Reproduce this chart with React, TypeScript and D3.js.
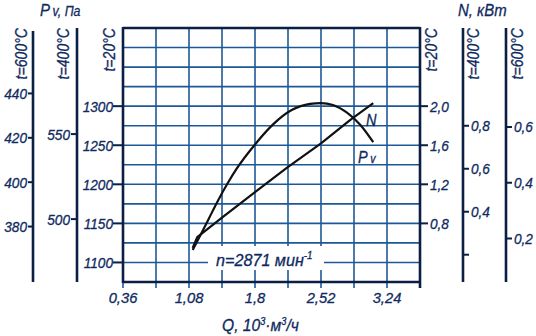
import React from "react";
import * as d3 from "d3";

// flow, 10^3 m3/h
const qTicks = [0.36, 1.08, 1.8, 2.52, 3.24];
const qGrid = [0.36, 0.72, 1.08, 1.44, 1.8, 2.16, 2.52, 2.88, 3.24, 3.6];
const pGrid = [1075, 1100, 1125, 1150, 1175, 1200, 1225, 1250, 1275, 1300, 1325, 1350, 1375, 1400];

// pressure ticks for each temperature
const pv20Ticks = [1100, 1150, 1200, 1250, 1300];
const pv400Ticks = [500, 550];
const pv600Ticks = [380, 400, 420, 440];

// power ticks
const n20Ticks = [0.8, 1.2, 1.6, 2.0];
const n400Ticks = [0.2, 0.4, 0.6, 0.8];
const n400Labeled = [0.4, 0.6, 0.8];
const n600Ticks = [0.2, 0.4, 0.6];

// curves (t=20°C scales)
const pvQ = [1.12, 1.2, 1.3, 1.4, 1.5, 1.6, 1.8, 2.0, 2.2, 2.4, 2.52, 2.65, 2.8, 2.95, 3.09];
const pvVal = [1116, 1134, 1157, 1180, 1201, 1220, 1251, 1277, 1295, 1303, 1304, 1301.5, 1292, 1276, 1254];
const nQ = [1.12, 1.17, 1.44, 1.8, 2.15, 2.52, 2.84, 3.09];
const nVal = [0.55, 0.66, 0.86, 1.12, 1.37, 1.62, 1.86, 2.03];

const W = 536;
const H = 336;
const L = 123, R = 420, T = 28, B = 282;

const TXT = "#0f2a5e";
const GRID = "#1d5896";
const FRAME = "#0b1f45";
const FONT = "'Liberation Sans', Arial, sans-serif";

const fmt = (v: number, d = 1) => v.toFixed(d).replace(".", ",");

// condensed italic label, drawn around (x, y)
function Lbl({ x, y, children, size = 15.5, anchor = "start", rot = 0, sx = 0.88 }: any) {
  return (
    <g transform={`translate(${x},${y}) rotate(${rot}) scale(${sx},1)`}>
      <text x={0} y={0} fontSize={size} fontStyle="italic" fontFamily={FONT} fill={TXT}
        stroke={TXT} strokeWidth={0.3} textAnchor={anchor}>
        {children}
      </text>
    </g>
  );
}

export default function App() {
  const x = d3.scaleLinear().domain([0.36, 3.6]).range([L, R]);
  const yP = d3.scaleLinear().domain([1075, 1400]).range([B, T]);
  const yN = d3.scaleLinear().domain([0.2, 2.8]).range([B, T]);
  const yP400 = d3.scaleLinear().domain([463, 612.4]).range([B, T]);
  const yP600 = d3.scaleLinear().domain([355, 469.5]).range([B, T]);
  const yN400 = d3.scaleLinear().domain([0.073, 1.255]).range([B, T]);
  const yN600 = d3.scaleLinear().domain([0.044, 0.955]).range([B, T]);

  const pvLine = d3.line<number>()
    .x((_, i) => x(pvQ[i]))
    .y(d => yP(d))
    .curve(d3.curveMonotoneX);
  const nLine = d3.line<number>()
    .x((_, i) => x(nQ[i]))
    .y(d => yN(d));

  const ax400 = 77, ax600 = 33, axN400 = 463, axN600 = 506;

  return (
    <svg width={W} height={H} style={{ position: "absolute", left: 0, top: 0, background: "#fff" }}>
      {/* grid */}
      {pGrid.map(p => (
        <line key={"h" + p} x1={L} x2={R} y1={yP(p)} y2={yP(p)} stroke={GRID} strokeWidth={1.6} />
      ))}
      {qGrid.map(q => (
        <line key={"v" + q} x1={x(q)} x2={x(q)} y1={T} y2={B + 6} stroke={GRID} strokeWidth={1.6} />
      ))}

      {/* label box for speed */}
      <rect x={208} y={246} width={116} height={24} fill="#fff" />
      <Lbl x={216} y={266} size={16.5} sx={0.98}>
        n=2871 мин<tspan dy={-7} fontSize={10}>-1</tspan>
      </Lbl>

      {/* frame */}
      <line x1={L} x2={R} y1={T} y2={T} stroke={FRAME} strokeWidth={2.6} />
      <line x1={L} x2={R} y1={B} y2={B} stroke={FRAME} strokeWidth={2.6} />
      <line x1={L} x2={L} y1={T - 1} y2={B + 1} stroke={FRAME} strokeWidth={2.6} />
      <line x1={R} x2={R} y1={T - 1} y2={B + 6} stroke={FRAME} strokeWidth={2.6} />

      {/* curves */}
      <path d={pvLine(pvVal) || ""} fill="none" stroke="#111" strokeWidth={2.2} />
      <path d={nLine(nVal) || ""} fill="none" stroke="#111" strokeWidth={2.2} strokeLinejoin="round" />
      <Lbl x={366} y={126} size={16.5}>N</Lbl>
      <Lbl x={358} y={163} size={16.5}>P<tspan dx={3} fontSize={12}>v</tspan></Lbl>

      {/* bottom axis */}
      {qTicks.map(q => (
        <Lbl key={"q" + q} x={x(q)} y={303} anchor="middle" sx={0.95}>{fmt(q, q === 1.8 ? 1 : 2)}</Lbl>
      ))}
      <Lbl x={222} y={331} size={17} sx={0.92}>
        Q, 10<tspan dy={-6} fontSize={10}>3</tspan><tspan dy={6}>·м</tspan><tspan dy={-6} fontSize={10}>3</tspan><tspan dy={6}>/ч</tspan>
      </Lbl>

      {/* left: t=20 */}
      {pv20Ticks.map(p => (
        <g key={"p20" + p}>
          <line x1={L - 10} x2={L} y1={yP(p)} y2={yP(p)} stroke={FRAME} strokeWidth={2} />
          <Lbl x={L - 10} y={yP(p) + 5.5} anchor="end">{p}</Lbl>
        </g>
      ))}
      <Lbl x={115} y={T} rot={-90} anchor="end" size={16}>t=20°C</Lbl>

      {/* left: t=400 */}
      <line x1={ax400} x2={ax400} y1={T} y2={B} stroke={FRAME} strokeWidth={2.6} />
      {pv400Ticks.map(p => (
        <g key={"p400" + p}>
          <line x1={ax400 - 6} x2={ax400} y1={yP400(p)} y2={yP400(p)} stroke={FRAME} strokeWidth={2} />
          <Lbl x={ax400 - 7} y={yP400(p) + 5.5} anchor="end">{p}</Lbl>
        </g>
      ))}
      <Lbl x={69} y={T} rot={-90} anchor="end" size={16}>t=400°C</Lbl>

      {/* left: t=600 */}
      <line x1={ax600} x2={ax600} y1={T + 3} y2={B} stroke={FRAME} strokeWidth={2.6} />
      {pv600Ticks.map(p => (
        <g key={"p600" + p}>
          <line x1={ax600 - 5} x2={ax600} y1={yP600(p)} y2={yP600(p)} stroke={FRAME} strokeWidth={2} />
          <Lbl x={ax600 - 6} y={yP600(p) + 5.5} anchor="end">{p}</Lbl>
        </g>
      ))}
      <Lbl x={27} y={T} rot={-90} anchor="end" size={16}>t=600°C</Lbl>

      <Lbl x={40} y={16} size={17}>P<tspan dx={3} fontSize={14}>v, Па</tspan></Lbl>

      {/* right: t=20 */}
      {n20Ticks.map(n => (
        <g key={"n20" + n}>
          <line x1={R} x2={R + 8} y1={yN(n)} y2={yN(n)} stroke={FRAME} strokeWidth={2} />
          <Lbl x={R + 10} y={yN(n) + 5.5}>{fmt(n)}</Lbl>
        </g>
      ))}
      <Lbl x={437} y={T} rot={-90} anchor="end" size={16}>t=20°C</Lbl>

      {/* right: t=400 */}
      <line x1={axN400} x2={axN400} y1={T} y2={B} stroke={FRAME} strokeWidth={2.6} />
      {n400Ticks.map(n => (
        <line key={"n400" + n} x1={axN400} x2={axN400 + 6} y1={yN400(n)} y2={yN400(n)} stroke={FRAME} strokeWidth={2} />
      ))}
      {n400Labeled.map(n => (
        <Lbl key={"n400l" + n} x={axN400 + 8} y={yN400(n) + 5.5}>{fmt(n)}</Lbl>
      ))}
      <Lbl x={479} y={T} rot={-90} anchor="end" size={16}>t=400°C</Lbl>

      {/* right: t=600 */}
      <line x1={axN600} x2={axN600} y1={T} y2={B} stroke={FRAME} strokeWidth={2.6} />
      {n600Ticks.map(n => (
        <g key={"n600" + n}>
          <line x1={axN600} x2={axN600 + 6} y1={yN600(n)} y2={yN600(n)} stroke={FRAME} strokeWidth={2} />
          <Lbl x={axN600 + 8} y={yN600(n) + 5.5}>{fmt(n)}</Lbl>
        </g>
      ))}
      <Lbl x={523} y={T} rot={-90} anchor="end" size={16}>t=600°C</Lbl>

      <Lbl x={458} y={16} size={17}>N, кВт</Lbl>
    </svg>
  );
}
